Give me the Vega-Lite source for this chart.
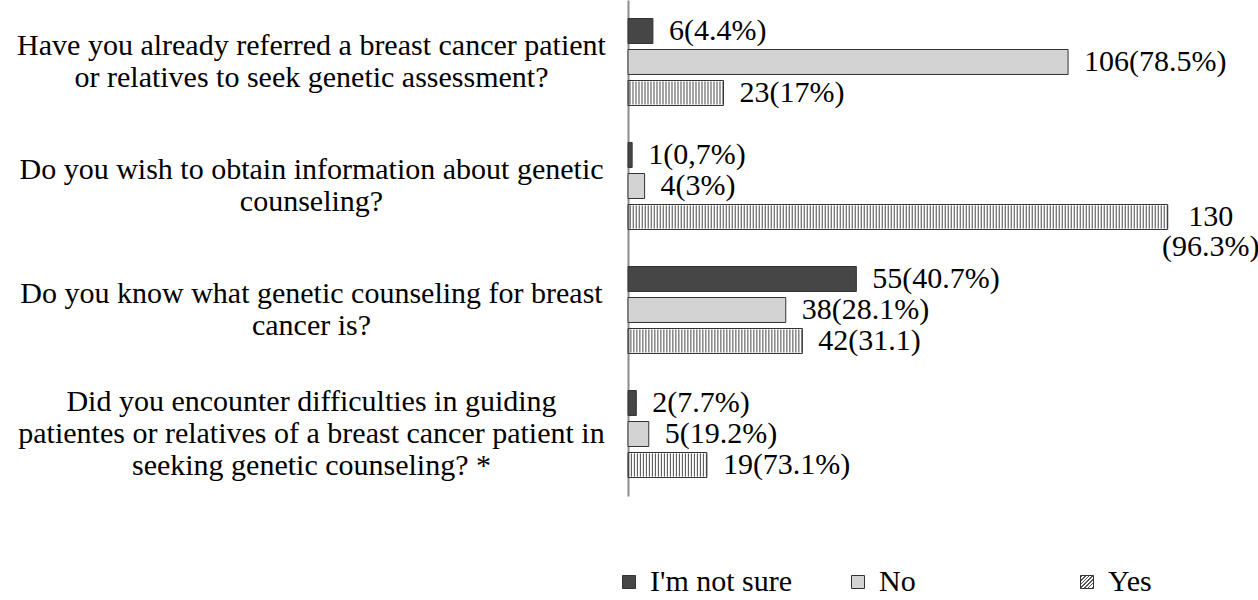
{
  "$schema": "https://vega.github.io/schema/vega-lite/v6.json",
  "autosize": {"type": "none"},
  "padding": {"left": 628, "top": 0, "right": 28, "bottom": 104},
  "width": 602,
  "height": 496,
  "background": "#ffffff",
  "config": {
    "view": {"stroke": null},
    "font": "Liberation Serif"
  },
  "data": {
    "values": [
      {"question": "Have you already referred a breast cancer patient or relatives to seek genetic assessment?", "answer": "I'm not sure", "value": 6, "label": "6(4.4%)"},
      {"question": "Have you already referred a breast cancer patient or relatives to seek genetic assessment?", "answer": "No", "value": 106, "label": "106(78.5%)"},
      {"question": "Have you already referred a breast cancer patient or relatives to seek genetic assessment?", "answer": "Yes", "value": 23, "label": "23(17%)"},
      {"question": "Do you wish to obtain information about genetic counseling?", "answer": "I'm not sure", "value": 1, "label": "1(0,7%)"},
      {"question": "Do you wish to obtain information about genetic counseling?", "answer": "No", "value": 4, "label": "4(3%)"},
      {"question": "Do you wish to obtain information about genetic counseling?", "answer": "Yes", "value": 130, "label": "130 (96.3%)"},
      {"question": "Do you know what genetic counseling for breast cancer is?", "answer": "I'm not sure", "value": 55, "label": "55(40.7%)"},
      {"question": "Do you know what genetic counseling for breast cancer is?", "answer": "No", "value": 38, "label": "38(28.1%)"},
      {"question": "Do you know what genetic counseling for breast cancer is?", "answer": "Yes", "value": 42, "label": "42(31.1)"},
      {"question": "Did you encounter difficulties in guiding patientes  or relatives of a breast cancer patient in seeking genetic counseling? *", "answer": "I'm not sure", "value": 2, "label": "2(7.7%)"},
      {"question": "Did you encounter difficulties in guiding patientes  or relatives of a breast cancer patient in seeking genetic counseling? *", "answer": "No", "value": 5, "label": "5(19.2%)"},
      {"question": "Did you encounter difficulties in guiding patientes  or relatives of a breast cancer patient in seeking genetic counseling? *", "answer": "Yes", "value": 19, "label": "19(73.1%)"}
    ]
  },
  "encoding": {
    "y": {
      "field": "question",
      "type": "nominal",
      "sort": null,
      "scale": {"paddingInner": 0.25, "paddingOuter": 0.125},
      "axis": {
        "title": null,
        "ticks": false,
        "grid": false,
        "domainColor": "#8c8c8c",
        "domainWidth": 2,
        "labelFont": "Liberation Serif",
        "labelFontSize": 30,
        "labelColor": "#000000",
        "labelAlign": "center",
        "labelBaseline": "middle",
        "labelPadding": 317,
        "labelLineHeight": 32,
        "labelLimit": 0,
        "labelOffset": {"expr": "indexof(datum.value, 'guiding') >= 0 ? -32 : -16"},
        "labelExpr": "indexof(datum.value, 'referred') >= 0 ? ['Have you already referred a breast cancer patient', 'or relatives to seek genetic assessment?'] : indexof(datum.value, 'wish') >= 0 ? ['Do you wish to obtain information about genetic', 'counseling?'] : indexof(datum.value, 'know what') >= 0 ? ['Do you know what genetic counseling for breast', 'cancer is?'] : ['Did you encounter difficulties in guiding', 'patientes  or relatives of a breast cancer patient in', 'seeking genetic counseling? *']"
      }
    },
    "yOffset": {
      "field": "answer",
      "type": "nominal",
      "sort": null,
      "scale": {"domain": ["I'm not sure", "No", "Yes"], "paddingInner": 0.194, "paddingOuter": 0.097}
    }
  },
  "layer": [
    {
      "transform": [{"filter": "datum.answer === 'Yes'"}],
      "mark": {"type": "rule", "strokeWidth": 23, "strokeDash": [1, 2], "stroke": "#4a4a4a", "strokeCap": "butt"},
      "encoding": {
        "x": {"field": "value", "type": "quantitative", "scale": {"domain": [0, 145], "nice": false}, "axis": null},
        "x2": {"datum": 0}
      }
    },
    {
      "mark": {"type": "bar", "stroke": "#333333", "strokeWidth": 1},
      "encoding": {
        "x": {"field": "value", "type": "quantitative", "scale": {"domain": [0, 145], "nice": false}, "axis": null},
        "fill": {
          "field": "answer",
          "type": "nominal",
          "sort": null,
          "scale": {
            "domain": ["I'm not sure", "No", "Yes"],
            "range": ["#464646", "#d3d3d3", {"expr": "{gradient: 'linear', x1: 0, y1: 0, x2: 1, y2: 1, stops: [{offset: 0, color: '#ffffff'}, {offset: 0.03, color: '#ffffff'}, {offset: 0.03, color: '#555555'}, {offset: 0.09, color: '#555555'}, {offset: 0.09, color: '#ffffff'}, {offset: 0.173, color: '#ffffff'}, {offset: 0.173, color: '#555555'}, {offset: 0.233, color: '#555555'}, {offset: 0.233, color: '#ffffff'}, {offset: 0.316, color: '#ffffff'}, {offset: 0.316, color: '#555555'}, {offset: 0.376, color: '#555555'}, {offset: 0.376, color: '#ffffff'}, {offset: 0.459, color: '#ffffff'}, {offset: 0.459, color: '#555555'}, {offset: 0.519, color: '#555555'}, {offset: 0.519, color: '#ffffff'}, {offset: 0.602, color: '#ffffff'}, {offset: 0.602, color: '#555555'}, {offset: 0.662, color: '#555555'}, {offset: 0.662, color: '#ffffff'}, {offset: 0.745, color: '#ffffff'}, {offset: 0.745, color: '#555555'}, {offset: 0.805, color: '#555555'}, {offset: 0.805, color: '#ffffff'}, {offset: 0.888, color: '#ffffff'}, {offset: 0.888, color: '#555555'}, {offset: 0.948, color: '#555555'}, {offset: 0.948, color: '#ffffff'}, {offset: 1, color: '#ffffff'}]}"}]
          },
          "legend": {
            "orient": "none",
            "legendX": -14,
            "legendY": 567,
            "direction": "horizontal",
            "columns": 3,
            "title": null,
            "symbolType": "square",
            "symbolSize": 169,
            "symbolStrokeColor": "#333333",
            "symbolStrokeWidth": 1,
            "labelFont": "Liberation Serif",
            "labelFontSize": 30,
            "labelColor": "#000000",
            "labelOffset": 6,
            "labelLimit": 0,
            "columnPadding": 50,
            "gridAlign": "all"
          }
        },
        "fillOpacity": {
          "condition": {"test": "datum.answer === 'Yes'", "value": 0},
          "value": 1
        }
      }
    },
    {
      "transform": [{"filter": "indexof(datum.label, ' ') < 0"}],
      "mark": {"type": "text", "align": "left", "baseline": "middle", "dx": 16, "font": "Liberation Serif", "fontSize": 30, "color": "#000000"},
      "encoding": {
        "x": {"field": "value", "type": "quantitative"},
        "text": {"field": "label", "type": "nominal"}
      }
    },
    {
      "transform": [{"filter": "indexof(datum.label, ' ') >= 0"}],
      "mark": {"type": "text", "align": "center", "baseline": "middle", "dx": 43, "dy": 0, "lineBreak": " ", "lineHeight": 30, "font": "Liberation Serif", "fontSize": 30, "color": "#000000"},
      "encoding": {
        "x": {"field": "value", "type": "quantitative"},
        "text": {"field": "label", "type": "nominal"}
      }
    }
  ]
}
